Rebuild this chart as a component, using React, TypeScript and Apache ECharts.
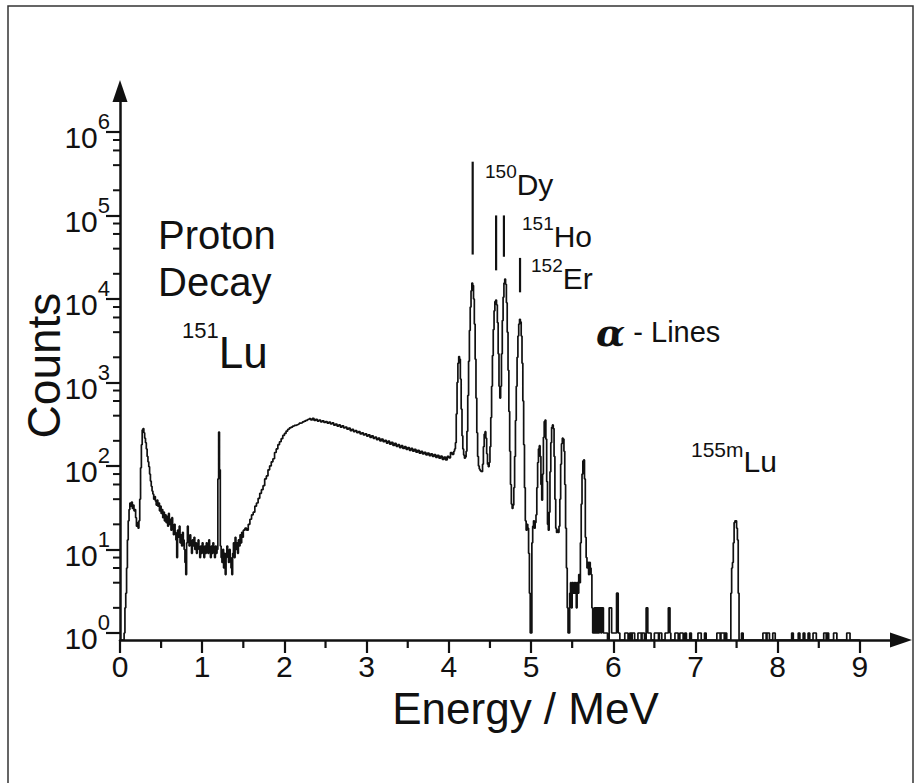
import React, { useEffect, useRef } from 'react';
import * as echarts from 'echarts';

const FONT = '"Liberation Sans", Arial, sans-serif';
const INK = '#111111';

// Axis ticks
const xTickValues = [0, 1, 2, 3, 4, 5, 6, 7, 8, 9];
const xMinorTickValues = [0.5, 1.5, 2.5, 3.5, 4.5, 5.5, 6.5, 7.5, 8.5];
const yTickValues = [1, 10, 100, 1e3, 1e4, 1e5, 1e6];
const yMinorTickValues = [
  2, 4, 6, 8, 20, 40, 60, 80, 200, 400, 600, 800, 2e3, 4e3, 6e3, 8e3,
  2e4, 4e4, 6e4, 8e4, 2e5, 4e5, 6e5, 8e5,
];
const X_MIN = 0;
const X_MAX = 9.5;
const Y_MIN = 0.824;
const Y_MAX = 3.09e6;

// Spectrum: [energy MeV (left edge of channel), counts]
const lowEnergy: [number, number][] = [
  [0.0, 0], [0.04, 0], [0.05, 1], [0.06, 2], [0.07, 3], [0.08, 6], [0.09, 13], [0.1, 22],
  [0.11, 30], [0.12, 36], [0.13, 33], [0.14, 37], [0.15, 31], [0.16, 34], [0.17, 29], [0.18, 30],
  [0.19, 24], [0.2, 19], [0.21, 21], [0.22, 18], [0.23, 22], [0.24, 40], [0.25, 95], [0.26, 180],
  [0.27, 270], [0.28, 280], [0.29, 250], [0.3, 215], [0.31, 190], [0.32, 160], [0.33, 130], [0.34, 112],
  [0.35, 98], [0.36, 80], [0.37, 66], [0.38, 57], [0.39, 50], [0.4, 46], [0.41, 40], [0.42, 43],
  [0.43, 38], [0.44, 34], [0.45, 39], [0.46, 33], [0.47, 36], [0.48, 29], [0.49, 33], [0.5, 27],
  [0.51, 30], [0.52, 24], [0.53, 28], [0.54, 22], [0.55, 26], [0.56, 21], [0.57, 25], [0.58, 19],
  [0.59, 27], [0.6, 20], [0.61, 23], [0.62, 17], [0.63, 24], [0.64, 18], [0.65, 15], [0.66, 20],
  [0.67, 16], [0.68, 13], [0.69, 8], [0.7, 17], [0.71, 14], [0.72, 19], [0.73, 12], [0.74, 15],
  [0.75, 11], [0.76, 16], [0.77, 13], [0.78, 10], [0.79, 7], [0.8, 5], [0.81, 12], [0.82, 19],
  [0.83, 14], [0.84, 11], [0.85, 15], [0.86, 12], [0.87, 9], [0.88, 13], [0.89, 11], [0.9, 14],
  [0.91, 10], [0.92, 12], [0.93, 9], [0.94, 11], [0.95, 13], [0.96, 10], [0.97, 8], [0.98, 11],
  [0.99, 9], [1.0, 12], [1.01, 10], [1.02, 8], [1.03, 11], [1.04, 9], [1.05, 12], [1.06, 10],
  [1.07, 9], [1.08, 13], [1.09, 10], [1.1, 8], [1.11, 11], [1.12, 9], [1.13, 12], [1.14, 10],
  [1.15, 8], [1.16, 11], [1.17, 9], [1.18, 10], [1.19, 70], [1.2, 255], [1.21, 90], [1.22, 11],
  [1.23, 8], [1.24, 7], [1.25, 10], [1.26, 6], [1.27, 9], [1.28, 5], [1.29, 8], [1.3, 11],
  [1.31, 9], [1.32, 7], [1.33, 10], [1.34, 8], [1.35, 6], [1.36, 5], [1.37, 9], [1.38, 12],
  [1.39, 8], [1.4, 14], [1.41, 10], [1.42, 12], [1.43, 9], [1.44, 13], [1.45, 11], [1.46, 15],
  [1.47, 12], [1.48, 16], [1.49, 14], [1.5, 17], [1.52, 18], [1.54, 17], [1.56, 20], [1.58, 23],
  [1.6, 26],
];

const continuum: [number, number][] = [
  [1.62, 28], [1.64, 33], [1.66, 36], [1.68, 41], [1.7, 47], [1.72, 52], [1.74, 58], [1.76, 70],
  [1.78, 76], [1.8, 90], [1.82, 100], [1.84, 112], [1.86, 122], [1.88, 145], [1.9, 160], [1.92, 180],
  [1.94, 195], [1.96, 212], [1.98, 232], [2.0, 245], [2.02, 262], [2.04, 275], [2.06, 285], [2.08, 292],
  [2.1, 300], [2.12, 306], [2.14, 312], [2.16, 318], [2.18, 325], [2.2, 330], [2.22, 338], [2.24, 345],
  [2.26, 352], [2.28, 360], [2.3, 368], [2.32, 355], [2.34, 372], [2.36, 350], [2.38, 362], [2.4, 345],
  [2.42, 355], [2.44, 338], [2.46, 348], [2.48, 332], [2.5, 340], [2.52, 325], [2.54, 335], [2.56, 318],
  [2.58, 328], [2.6, 308], [2.62, 318], [2.64, 300], [2.66, 310], [2.68, 292], [2.7, 302], [2.72, 285],
  [2.74, 292], [2.76, 276], [2.78, 284], [2.8, 265], [2.82, 275], [2.84, 258], [2.86, 266], [2.88, 250],
  [2.9, 258], [2.92, 242], [2.94, 250], [2.96, 235], [2.98, 243], [3.0, 228], [3.02, 236], [3.04, 220],
  [3.06, 230], [3.08, 214], [3.1, 222], [3.12, 206], [3.14, 215], [3.16, 200], [3.18, 210], [3.2, 195],
  [3.22, 203], [3.24, 188], [3.26, 198], [3.28, 182], [3.3, 192], [3.32, 176], [3.34, 186], [3.36, 172],
  [3.38, 180], [3.4, 166], [3.42, 175], [3.44, 162], [3.46, 170], [3.48, 158], [3.5, 166], [3.52, 154],
  [3.54, 162], [3.56, 150], [3.58, 158], [3.6, 146], [3.62, 154], [3.64, 142], [3.66, 150], [3.68, 139],
  [3.7, 146], [3.72, 136], [3.74, 143], [3.76, 133], [3.78, 140], [3.8, 130], [3.82, 137], [3.84, 127],
  [3.86, 134], [3.88, 124], [3.9, 131], [3.92, 120], [3.94, 128], [3.96, 118], [3.98, 130], [4.0, 125],
  [4.02, 145], [4.04, 138],
];

const alphaRegion: [number, number][] = [
  [4.06, 150], [4.07, 160], [4.08, 190], [4.09, 420], [4.1, 1000], [4.11, 1700], [4.12, 2040], [4.13, 1900],
  [4.14, 1100], [4.15, 480], [4.16, 230], [4.17, 160], [4.18, 135], [4.19, 124], [4.2, 128], [4.21, 150],
  [4.22, 260], [4.23, 700], [4.24, 1800], [4.25, 4200], [4.26, 8000], [4.27, 12500], [4.28, 15500], [4.29, 14500],
  [4.3, 10000], [4.31, 5000], [4.32, 1900], [4.33, 650], [4.34, 250], [4.35, 130], [4.36, 100], [4.37, 92],
  [4.38, 88], [4.39, 86], [4.4, 85], [4.41, 105], [4.42, 170], [4.43, 240], [4.44, 257], [4.45, 215],
  [4.46, 140], [4.47, 105], [4.48, 98], [4.49, 110], [4.5, 170], [4.51, 380], [4.52, 900], [4.53, 2100],
  [4.54, 4300], [4.55, 7200], [4.56, 9300], [4.57, 9700], [4.58, 8500], [4.59, 5200], [4.6, 2200], [4.61, 900],
  [4.62, 650], [4.63, 900], [4.64, 2200], [4.65, 5500], [4.66, 10500], [4.67, 15500], [4.68, 17300], [4.69, 15000],
  [4.7, 9000], [4.71, 4000], [4.72, 1400], [4.73, 450], [4.74, 150], [4.75, 60], [4.76, 35], [4.77, 31],
  [4.78, 34], [4.79, 55], [4.8, 130], [4.81, 350], [4.82, 900], [4.83, 2000], [4.84, 3600], [4.85, 5000],
  [4.86, 5700], [4.87, 5300], [4.88, 3600], [4.89, 1700], [4.9, 600], [4.91, 180], [4.92, 55], [4.93, 22],
  [4.94, 17], [4.95, 20], [4.96, 18], [4.97, 9], [4.98, 3], [4.99, 1], [5.0, 1], [5.01, 12],
  [5.02, 19], [5.03, 22], [5.04, 18], [5.05, 21], [5.06, 26], [5.07, 55], [5.08, 110], [5.09, 160],
  [5.1, 175], [5.11, 130], [5.12, 60], [5.13, 39], [5.14, 80], [5.15, 220], [5.16, 340], [5.17, 355],
  [5.18, 210], [5.19, 65], [5.2, 20], [5.21, 17], [5.22, 28], [5.23, 85], [5.24, 190], [5.25, 290],
  [5.26, 310], [5.27, 280], [5.28, 130], [5.29, 40], [5.3, 18], [5.31, 16], [5.32, 17], [5.33, 16],
  [5.34, 19], [5.35, 40], [5.36, 105], [5.37, 185], [5.38, 215], [5.39, 210], [5.4, 150], [5.41, 60],
  [5.42, 18], [5.43, 6], [5.44, 2], [5.45, 1], [5.46, 1], [5.47, 3], [5.48, 4], [5.49, 2],
  [5.5, 4], [5.51, 3], [5.52, 4], [5.53, 3], [5.54, 4], [5.55, 2], [5.56, 4], [5.57, 3],
  [5.58, 5], [5.59, 4], [5.6, 12], [5.61, 35], [5.62, 80], [5.63, 115], [5.64, 118], [5.65, 70],
  [5.66, 14], [5.67, 8], [5.68, 6], [5.69, 7], [5.7, 5], [5.71, 7], [5.72, 6], [5.73, 5],
  [5.74, 2], [5.75, 1], [5.76, 1], [5.77, 2], [5.78, 1], [5.79, 2], [5.8, 1], [5.81, 2],
  [5.82, 1], [5.83, 2], [5.84, 2], [5.85, 1], [5.86, 2], [5.87, 2], [5.88, 1],
];

const highEnergyTail: [number, number][] = [
  [5.89, 1], [5.93, 0], [5.95, 2], [5.98, 1], [6.04, 3], [6.06, 1], [6.08, 0], [6.14, 1],
  [6.18, 0], [6.2, 1], [6.22, 0], [6.23, 1], [6.26, 0], [6.3, 1], [6.34, 0], [6.35, 1],
  [6.38, 0], [6.4, 2], [6.42, 1], [6.46, 0], [6.5, 1], [6.55, 0], [6.56, 1], [6.59, 0],
  [6.63, 1], [6.67, 2], [6.69, 1], [6.7, 0], [6.75, 1], [6.79, 0], [6.81, 1], [6.85, 0],
  [6.87, 1], [6.89, 0], [6.93, 1], [6.95, 0], [7.03, 1], [7.07, 0], [7.11, 1], [7.13, 0],
  [7.26, 1], [7.3, 0], [7.31, 1], [7.35, 0], [7.36, 1], [7.38, 0], [7.43, 3], [7.44, 6],
  [7.45, 7], [7.46, 12], [7.47, 21], [7.48, 22], [7.49, 22], [7.5, 18], [7.51, 13], [7.52, 3],
  [7.53, 0], [7.56, 1], [7.58, 0], [7.82, 1], [7.86, 0], [7.87, 1], [7.9, 0], [7.94, 1],
  [7.97, 0], [8.17, 1], [8.19, 0], [8.25, 1], [8.27, 0], [8.31, 1], [8.33, 0], [8.37, 1],
  [8.39, 0], [8.43, 1], [8.47, 0], [8.56, 1], [8.59, 0], [8.6, 1], [8.62, 0], [8.68, 1],
  [8.72, 0], [8.84, 1], [8.88, 0], [9.0, 0],
];

// Nuclide marker lines: energy (MeV), lower and upper counts
const markerEnergies = [4.29, 4.575, 4.67, 4.866];
const markerFrom = [3.4e4, 2.2e4, 3.2e4, 1.2e4];
const markerTo = [4.4e5, 1.0e5, 1.0e5, 3.1e4];

const supText = (sup: string, base: string, x: number, y: number, supSize: number, baseSize: number) => ({
  type: 'text',
  x,
  y,
  silent: true,
  style: {
    text: `{s|${sup}}{b|${base}}`,
    verticalAlign: 'middle',
    align: 'left',
    rich: {
      s: { fontSize: supSize, fontFamily: FONT, fill: INK, color: INK, lineHeight: supSize + 2, verticalAlign: 'top' },
      b: { fontSize: baseSize, fontFamily: FONT, fill: INK, color: INK, lineHeight: baseSize * 1.25, verticalAlign: 'bottom' },
    },
  },
});

export default function App() {
  const ref = useRef<HTMLDivElement>(null);

  useEffect(() => {
    if (!ref.current) return;
    const chart = echarts.init(ref.current, undefined, { renderer: 'svg' });

    const spectrum = [...lowEnergy, ...continuum, ...alphaRegion, ...highEnergyTail].map(
      ([e, c]) => [e, c > 0 ? c : Y_MIN]
    );

    const option: any = {
      animation: false,
      backgroundColor: '#ffffff',
      grid: { left: 120, right: 18, top: 91, bottom: 143, containLabel: false },
      xAxis: {
        type: 'value',
        min: X_MIN,
        max: X_MAX,
        position: 'bottom',
        name: 'Energy / MeV',
        nameLocation: 'middle',
        nameGap: 46,
        nameMoveOverlap: false,
        nameTextStyle: { fontSize: 44, lineHeight: 44, fontFamily: FONT, color: INK, padding: [0, 0, 0, 30] },
        axisLine: {
          show: true,
          onZero: false,
          symbol: ['none', 'triangle'],
          symbolSize: [15, 22],
          lineStyle: { color: INK, width: 2.5 },
        },
        axisTick: { show: true, customValues: xTickValues, length: 13, lineStyle: { color: INK, width: 2.2 } },
        axisLabel: { customValues: xTickValues, margin: 13, fontSize: 30, lineHeight: 26, fontFamily: FONT, color: INK },
        splitLine: { show: false },
      },
      yAxis: {
        type: 'log',
        logBase: 10,
        min: Y_MIN,
        max: Y_MAX,
        position: 'left',
        name: 'Counts',
        nameLocation: 'middle',
        nameRotate: 90,
        nameGap: 53,
        nameMoveOverlap: false,
        nameTextStyle: { fontSize: 46, fontFamily: FONT, color: INK },
        axisLine: {
          show: true,
          onZero: false,
          symbol: ['none', 'triangle'],
          symbolSize: [15, 22],
          lineStyle: { color: INK, width: 2.5 },
        },
        axisTick: { show: true, customValues: yTickValues, length: 14, lineStyle: { color: INK, width: 2.2 } },
        axisLabel: {
          customValues: yTickValues,
          margin: 10,
          formatter: (v: number) => `{b|10}{s|${Math.round(Math.log10(v))}}`,
          rich: {
            b: { fontSize: 30, fontFamily: FONT, color: INK, lineHeight: 42, verticalAlign: 'bottom' },
            s: { fontSize: 22, fontFamily: FONT, color: INK, lineHeight: 22, verticalAlign: 'top' },
          },
        },
        splitLine: { show: false },
      },
      series: [
        {
          type: 'line',
          name: 'spectrum',
          step: 'end',
          symbol: 'none',
          data: spectrum,
          lineStyle: { color: INK, width: 1.7 },
          clip: true,
          z: 3,
        },
        {
          type: 'custom',
          name: 'markers',
          encode: { x: 0, y: [1, 2] },
          data: markerEnergies.map((e, i) => [e, markerFrom[i], markerTo[i]]),
          renderItem: (_params: any, api: any) => {
            const p1 = api.coord([api.value(0), api.value(1)]);
            const p2 = api.coord([api.value(0), api.value(2)]);
            return {
              type: 'line',
              shape: { x1: p1[0], y1: p1[1], x2: p2[0], y2: p2[1] },
              style: { stroke: INK, lineWidth: 2.2 },
            };
          },
          z: 4,
        },
      ],
    };

    chart.setOption(option);

    // Minor ticks placed through the chart's own scales
    const minorTicks: any[] = [];
    yMinorTickValues.forEach((v) => {
      const p = chart.convertToPixel({ gridIndex: 0 }, [X_MIN, v]) as number[];
      minorTicks.push({
        type: 'line',
        silent: true,
        shape: { x1: p[0] - 7, y1: p[1], x2: p[0], y2: p[1] },
        style: { stroke: INK, lineWidth: 2 },
      });
    });
    xMinorTickValues.forEach((v) => {
      const p = chart.convertToPixel({ gridIndex: 0 }, [v, Y_MIN]) as number[];
      minorTicks.push({
        type: 'line',
        silent: true,
        shape: { x1: p[0], y1: p[1], x2: p[0], y2: p[1] + 8 },
        style: { stroke: INK, lineWidth: 2.2 },
      });
    });

    chart.setOption({
      graphic: {
        elements: [
          {
            type: 'rect',
            silent: true,
            z: -10,
            shape: { x: 8, y: 6, width: 905, height: 800 },
            style: { fill: 'none', stroke: '#333', lineWidth: 1.5 },
          },
          {
            type: 'text',
            x: 158,
            y: 258,
            silent: true,
            style: {
              text: 'Proton\nDecay',
              font: `40px ${FONT}`,
              lineHeight: 47,
              fill: INK,
              verticalAlign: 'middle',
              align: 'left',
            },
          },
          supText('151', 'Lu', 182, 347, 22, 44),
          {
            type: 'text',
            x: 596,
            y: 332,
            silent: true,
            style: {
              text: '{a|α}{t| - Lines}',
              verticalAlign: 'middle',
              align: 'left',
              rich: {
                a: { fontSize: 38, fontFamily: '"DejaVu Serif", serif', fontStyle: 'italic', fontWeight: 'bold', fill: INK, color: INK, lineHeight: 40 },
                t: { fontSize: 29, fontFamily: FONT, fill: INK, color: INK, lineHeight: 40 },
              },
            },
          },
          supText('155m', 'Lu', 691, 458, 21, 30),
          supText('150', 'Dy', 485, 181, 19, 30),
          supText('151', 'Ho', 522, 233, 19, 30),
          supText('152', 'Er', 531, 275, 19, 30),
          ...minorTicks,
        ],
      },
    });

    return () => chart.dispose();
  }, []);

  return (
    <div
      ref={ref}
      style={{ position: 'fixed', left: 0, top: 0, width: 919, height: 783, background: '#fff' }}
    />
  );
}
